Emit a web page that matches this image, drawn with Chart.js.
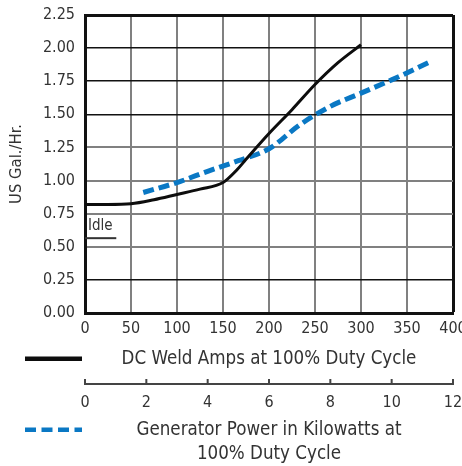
<!DOCTYPE html>
<html>
<head>
<meta charset="utf-8">
<script src="https://cdn.jsdelivr.net/npm/chart.js@4/dist/chart.umd.min.js"></script>
<style>
  html, body { margin: 0; padding: 0; background: #fff; overflow: hidden; }
  #wrap { width: 462px; height: 466px; }
</style>
</head>
<body>
<div id="wrap"><canvas id="fuelChart"></canvas></div>
<script>
// fuel use vs weld amps (black curve)
const weldAmps = [0, 25, 50, 75, 100, 125, 150, 165, 175, 200, 225, 250, 275, 300];
const weldGal  = [0.82, 0.82, 0.825, 0.855, 0.895, 0.935, 0.985, 1.08, 1.16, 1.355, 1.535, 1.725, 1.89, 2.025];

// fuel use vs generator kW (blue dashed curve)
const genKw  = [1.9, 3.0, 4.0, 5.0, 6.0, 7.0, 8.0, 9.0, 10.0, 11.2];
const genGal = [0.91, 0.985, 1.07, 1.15, 1.24, 1.42, 1.56, 1.66, 1.76, 1.89];

// idle mark
const idleAmps = [0, 34];
const idleGal  = [0.565, 0.565];

const yBlackTicks = [0.25, 1.5, 1.75, 2.0];

const FONT = "'Liberation Sans Narrow', 'DejaVu Sans Condensed', sans-serif";
const TEXT = '#333';

function toPoints(xs, ys) {
    return xs.map((x, i) => ({ x: x, y: ys[i] }));
}

// centre line of a bottom axis title (same sum chart.js uses)
function titleCenter(scale) {
    const t = scale.options.title;
    const lh = t.font.size * t.font.lineHeight;
    const pad = Chart.helpers.toPadding(t.padding);
    const lines = Array.isArray(t.text) ? t.text.length : 1;
    return scale.bottom - pad.bottom - lh / 2 - lh * (lines - 1);
}

const extras = {
    id: 'extras',
    afterDraw(chart) {
        const ctx = chart.ctx;
        const area = chart.chartArea;
        const xs = chart.scales.x;
        const x2 = chart.scales.x2;
        const ys = chart.scales.y;

        ctx.save();

        // kW axis tick marks point up
        ctx.strokeStyle = '#444';
        ctx.lineWidth = 2;
        x2.ticks.forEach(t => {
            const px = x2.getPixelForValue(t.value);
            ctx.beginPath();
            ctx.moveTo(px, x2.top - 5);
            ctx.lineTo(px, x2.top);
            ctx.stroke();
        });

        // legend swatches left of the axis titles
        const sx1 = area.left - 60;
        const sx2 = area.left - 3;
        let sy = titleCenter(xs);
        ctx.strokeStyle = '#0d0d0d';
        ctx.lineWidth = 4.5;
        ctx.beginPath();
        ctx.moveTo(sx1, sy);
        ctx.lineTo(sx2, sy);
        ctx.stroke();

        sy = titleCenter(x2);
        ctx.strokeStyle = '#0a78c4';
        ctx.setLineDash([11, 5.5]);
        ctx.beginPath();
        ctx.moveTo(sx1, sy);
        ctx.lineTo(sx2, sy);
        ctx.stroke();
        ctx.setLineDash([]);

        // Idle label
        ctx.fillStyle = TEXT;
        ctx.font = '15px ' + FONT;
        ctx.textAlign = 'left';
        ctx.textBaseline = 'bottom';
        ctx.fillText('Idle', xs.getPixelForValue(idleAmps[0]) + 3, ys.getPixelForValue(idleGal[0]) - 5);

        ctx.restore();
    }
};

const ctx = document.getElementById('fuelChart');
new Chart(ctx, {
    type: 'line',
    data: {
        datasets: [{
            label: 'DC Weld Amps at 100% Duty Cycle',
            data: toPoints(weldAmps, weldGal),
            xAxisID: 'x',
            borderColor: '#0d0d0d',
            borderWidth: 3,
            pointRadius: 0,
            cubicInterpolationMode: 'monotone'
        }, {
            label: 'Generator Power in Kilowatts at 100% Duty Cycle',
            data: toPoints(genKw, genGal),
            xAxisID: 'x2',
            borderColor: '#0a78c4',
            borderWidth: 5,
            borderDash: [11, 5],
            pointRadius: 0,
            cubicInterpolationMode: 'monotone'
        }, {
            label: 'Idle',
            data: toPoints(idleAmps, idleGal),
            xAxisID: 'x',
            borderColor: '#333',
            borderWidth: 2,
            pointRadius: 0
        }]
    },
    options: {
        responsive: true,
        maintainAspectRatio: false,
        animation: false,
        layout: { padding: { top: 15, right: 9, left: 0, bottom: 0 } },
        plugins: {
            legend: { display: false },
            tooltip: { enabled: false }
        },
        scales: {
            x: {
                type: 'linear',
                position: 'bottom',
                min: 0,
                max: 400,
                ticks: { stepSize: 50, padding: 6, color: TEXT, font: { family: FONT, size: 16 } },
                grid: {
                    drawTicks: false,
                    color: c => c.tick.value === 400 ? '#111' : '#808080',
                    lineWidth: c => c.tick.value === 400 ? 3 : 2
                },
                border: { color: '#111', width: 3 },
                title: {
                    display: true,
                    text: 'DC Weld Amps at 100% Duty Cycle',
                    color: TEXT,
                    font: { family: FONT, size: 18.6, lineHeight: 1.2 },
                    padding: { top: 0, bottom: 14 }
                },
                afterFit: s => { s.height = 71; s.paddingLeft = 0; s.paddingRight = 0; }
            },
            x2: {
                type: 'linear',
                position: 'bottom',
                min: 0,
                max: 12,
                ticks: { stepSize: 2, padding: 9, color: TEXT, font: { family: FONT, size: 16 } },
                grid: { drawOnChartArea: false, drawTicks: false },
                border: { color: '#444', width: 2 },
                title: {
                    display: true,
                    text: ['Generator Power in Kilowatts at', '100% Duty Cycle'],
                    color: TEXT,
                    font: { family: FONT, size: 18.6, lineHeight: 1.3 },
                    padding: { top: 0, bottom: 0 }
                },
                afterFit: s => { s.height = 82; s.paddingLeft = 0; s.paddingRight = 0; }
            },
            y: {
                min: 0,
                max: 2.25,
                ticks: {
                    stepSize: 0.25,
                    padding: 10,
                    color: TEXT,
                    font: { family: FONT, size: 16 },
                    callback: v => v.toFixed(2)
                },
                grid: {
                    drawTicks: false,
                    color: c => (c.tick.value === 2.25 || yBlackTicks.includes(c.tick.value)) ? '#111' : '#808080',
                    lineWidth: c => c.tick.value === 2.25 ? 3 : (yBlackTicks.includes(c.tick.value) ? 1.5 : 2)
                },
                border: { color: '#111', width: 3 },
                title: {
                    display: true,
                    text: 'US Gal./Hr.',
                    color: TEXT,
                    font: { family: FONT, size: 16.5, lineHeight: 1.2 },
                    padding: { top: 7, bottom: 0 }
                },
                afterFit: s => { s.width = 85; s.paddingTop = 0; s.paddingBottom = 0; }
            }
        }
    },
    plugins: [extras]
});
</script>
</body>
</html>
